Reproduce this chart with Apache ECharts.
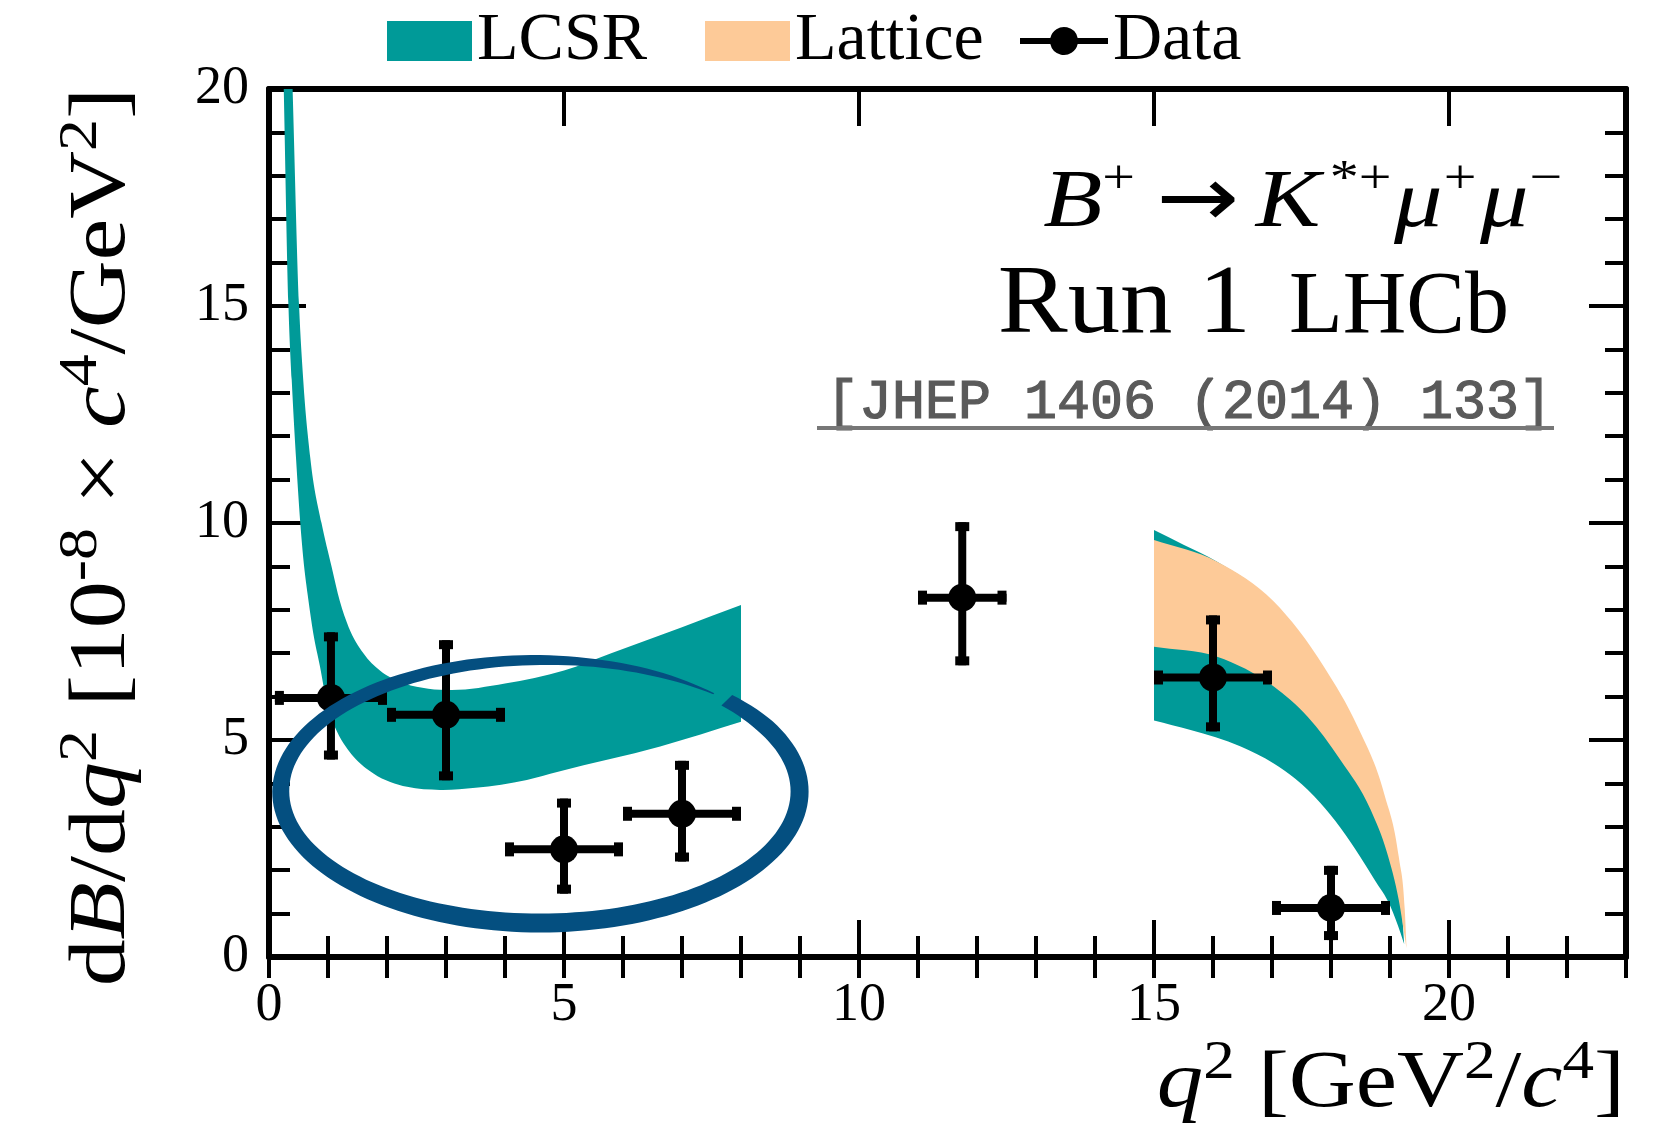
<!DOCTYPE html>
<html><head><meta charset="utf-8">
<script src="https://cdn.jsdelivr.net/npm/echarts@6/dist/echarts.min.js"></script>
<style>html,body{margin:0;padding:0;background:#fff}#c{width:1676px;height:1139px}</style>
</head><body><div id="c"></div>
<script>
// ---------------- data ----------------
const xMajorTicks = [0, 5, 10, 15, 20];
const yMajorTicks = [0, 5, 10, 15, 20];

// measured differential branching fraction (bins in q^2)
const dataX     = [1.05, 3, 5, 7, 11.75, 16, 18];
const dataXLow  = [0.1, 2, 4, 6, 11, 15, 17];
const dataXHigh = [2, 4, 6, 8, 12.5, 17, 19];
const dataY     = [5.97, 5.58, 2.48, 3.30, 8.28, 6.44, 1.13];
const dataYLow  = [4.55, 4.07, 1.46, 2.20, 6.72, 5.20, 0.39];
const dataYHigh = [7.48, 7.30, 3.65, 4.52, 10.02, 7.87, 2.10];

// LCSR band, low q^2
const lcsrLowUpperX = [0.4, 0.51, 0.58, 0.7, 0.89, 1.06, 1.2, 1.35, 1.6, 1.88, 2.3, 2.7, 3.1, 4.0, 5.0, 5.8, 7.0, 8.0];
const lcsrLowUpperY = [20, 15, 13.3, 11.5, 10.0, 9.0, 8.2, 7.6, 7.0, 6.6, 6.3, 6.18, 6.15, 6.3, 6.6, 7.0, 7.6, 8.11];
const lcsrLowLowerX = [0.25, 0.33, 0.385, 0.46, 0.53, 0.58, 0.667, 0.75, 0.865, 0.98, 1.15, 1.3, 1.43, 1.77, 2.34, 2.9, 3.5, 4.37, 4.9, 6.63, 8.0];
const lcsrLowLowerY = [20, 15, 13.3, 11.45, 10.0, 9.2, 8.23, 7.46, 6.69, 5.85, 5.2, 4.85, 4.62, 4.23, 3.92, 3.85, 3.9, 4.08, 4.27, 4.85, 5.42];

// LCSR band, high q^2
const lcsrHighUpperX = [15.0, 15.5, 16.07, 17.03, 17.88, 18.45, 18.9, 19.1, 19.2, 19.24];
const lcsrHighUpperY = [9.84, 9.5, 9.11, 8.15, 6.6, 5.15, 3.5, 2.2, 1.1, 0.3];
const lcsrHighLowerX = [15.0, 15.62, 16.47, 17.03, 17.4, 17.82, 18.16, 18.5, 18.73, 19.01, 19.18, 19.24];
const lcsrHighLowerY = [5.45, 5.23, 4.85, 4.46, 4.1, 3.55, 2.98, 2.3, 1.8, 1.16, 0.55, 0.3];

// Lattice band, high q^2
const latticeUpperX = [15.0, 16.07, 17.03, 17.88, 18.45, 18.9, 19.15, 19.25, 19.28];
const latticeUpperY = [9.61, 9.11, 8.19, 6.69, 5.31, 3.77, 2.3, 1.1, 0.2];
const latticeLowerX = [15.0, 16.07, 17.03, 17.6, 18.16, 18.67, 18.95, 19.15, 19.28];
const latticeLowerY = [7.15, 6.92, 6.23, 5.54, 4.54, 3.4, 2.4, 1.3, 0.2];

// hand-drawn highlight ellipse (annotation, in data units)
const ellipseCenter = [4.596, 3.813];
const ellipseRadii = [4.397, 3.03];

// ---------------- styles ----------------
const TEAL = '#009a98';
const ORANGE = '#fdca98';
const NAVY = '#044f80';
const SERIF = '"Liberation Serif", "DejaVu Serif", serif';
const MONO = '"Liberation Mono", "DejaVu Sans Mono", monospace';

// smooth cubic Hermite path through pixel points (x monotone along the edge)
function smoothPath(pts, move) {
  const n = pts.length;
  let d = (move ? 'M' : 'L') + pts[0][0] + ',' + pts[0][1];
  const h = [], s = [];
  for (let i = 0; i < n - 1; i++) {
    let dx = pts[i + 1][0] - pts[i][0];
    if (Math.abs(dx) < 1e-6) dx = 1e-6;
    h.push(dx); s.push((pts[i + 1][1] - pts[i][1]) / dx);
  }
  const m = [];
  for (let i = 0; i < n; i++) {
    if (i === 0) m.push(s[0]);
    else if (i === n - 1) m.push(s[n - 2]);
    else m.push((h[i - 1] * s[i] + h[i] * s[i - 1]) / (h[i - 1] + h[i]));
  }
  for (let i = 0; i < n - 1; i++) {
    const p1 = pts[i], p2 = pts[i + 1], k = h[i] / 3;
    const c1 = [p1[0] + k, p1[1] + k * m[i]];
    const c2 = [p2[0] - k, p2[1] - k * m[i + 1]];
    d += ' C' + c1[0] + ',' + c1[1] + ' ' + c2[0] + ',' + c2[1] + ' ' + p2[0] + ',' + p2[1];
  }
  return d;
}

function bandSeries(name, upX, upY, loX, loY, color, z) {
  return {
    type: 'custom', name: name, coordinateSystem: 'cartesian2d', xAxisIndex: 0, yAxisIndex: 0,
    z: z, silent: true, itemStyle: { color: color },
    data: [[upX[0], upY[0]]],
    renderItem: function (params, api) {
      const up = upX.map((x, i) => api.coord([x, upY[i]]));
      const lo = loX.map((x, i) => api.coord([x, loY[i]])).reverse();
      const d = smoothPath(up, true) + ' ' + smoothPath(lo, false) + ' Z';
      return { type: 'path', shape: { pathData: d }, style: { fill: color } };
    }
  };
}

const errData = dataX.map((x, i) => [x, dataY[i], dataXLow[i], dataXHigh[i], dataYLow[i], dataYHigh[i]]);

const errSeries = {
  type: 'custom', name: 'Data', coordinateSystem: 'cartesian2d', xAxisIndex: 0, yAxisIndex: 0,
  z: 10, silent: true, itemStyle: { color: '#000' },
  encode: { x: 0, y: 1 },
  data: errData,
  renderItem: function (params, api) {
    const x = api.value(0), y = api.value(1);
    const c = api.coord([x, y]);
    const pl = api.coord([api.value(2), y]), ph = api.coord([api.value(3), y]);
    const pb = api.coord([x, api.value(4)]), pt = api.coord([x, api.value(5)]);
    const lw = 8, capL = 14, capW = 9;
    const st = { fill: '#000' };
    return {
      type: 'group', children: [
        { type: 'rect', shape: { x: pl[0], y: c[1] - lw / 2, width: ph[0] - pl[0], height: lw }, style: st },
        { type: 'rect', shape: { x: c[0] - lw / 2, y: pt[1], width: lw, height: pb[1] - pt[1] }, style: st },
        { type: 'rect', shape: { x: pl[0], y: c[1] - capL / 2, width: capW, height: capL }, style: st },
        { type: 'rect', shape: { x: ph[0] - capW, y: c[1] - capL / 2, width: capW, height: capL }, style: st },
        { type: 'rect', shape: { x: c[0] - capL / 2, y: pt[1], width: capL, height: capW }, style: st },
        { type: 'rect', shape: { x: c[0] - capL / 2, y: pb[1] - capW, width: capL, height: capW }, style: st },
        { type: 'circle', shape: { cx: c[0], cy: c[1], r: 14 }, style: st }
      ]
    };
  }
};

// stroke width profile of the hand-drawn ellipse (screen angle in degrees -> px)
const widthProfile = [[-44, 15], [-30, 18], [0, 18], [90, 19], [180, 17], [225, 14], [270, 10], [295, 6], [312, 1.5]];
function strokeW(a) {
  for (let i = 0; i < widthProfile.length - 1; i++) {
    const [a0, w0] = widthProfile[i], [a1, w1] = widthProfile[i + 1];
    if (a >= a0 && a <= a1) return w0 + (w1 - w0) * (a - a0) / (a1 - a0);
  }
  return 10;
}
const ellipseSeries = {
  type: 'custom', name: 'highlight', coordinateSystem: 'cartesian2d', xAxisIndex: 0, yAxisIndex: 0,
  z: 20, silent: true,
  data: [ellipseCenter],
  renderItem: function (params, api) {
    const c = api.coord([api.value(0), api.value(1)]);
    const sz = api.size(ellipseRadii);
    const rx = sz[0], ry = sz[1];
    const outer = [], inner = [];
    for (let a = -44; a <= 312; a += 2) {
      const t = a * Math.PI / 180, w = strokeW(a) / 2;
      const ct = Math.cos(t), sn = Math.sin(t);
      outer.push([c[0] + (rx + w) * ct, c[1] + (ry + w) * sn]);
      inner.push([c[0] + (rx - w) * ct, c[1] + (ry - w) * sn]);
    }
    return { type: 'polygon', shape: { points: outer.concat(inner.reverse()) }, style: { fill: NAVY } };
  }
};

// ---------------- axes ----------------
const axisLine = { show: true, onZero: false, lineStyle: { color: '#000', width: 6 } };
const majorTick = { show: true, inside: true, length: 37, lineStyle: { color: '#000', width: 4 } };
const minorTickAx = { show: true, inside: true, length: 21, lineStyle: { color: '#000', width: 4 } };
const labelStyle = { fontFamily: SERIF, fontSize: 54, color: '#000' };

function xAx(pos, major, label) {
  return {
    type: 'value', position: pos, min: 0, max: 23, interval: major ? 5 : 1,
    axisLine: major ? axisLine : { show: false },
    axisTick: major ? majorTick : minorTickAx,
    splitLine: { show: false },
    axisLabel: label ? Object.assign({ margin: 22, formatter: v => (xMajorTicks.indexOf(v) >= 0 ? String(v) : '') }, labelStyle) : { show: false }
  };
}
function yAx(pos, label) {
  return {
    type: 'value', position: pos, min: 0, max: 20, interval: 5,
    axisLine: axisLine, axisTick: majorTick,
    minorTick: { show: true, splitNumber: 5, length: 21, lineStyle: { color: '#000', width: 4 } },
    splitLine: { show: false },
    axisLabel: label ? Object.assign({ margin: 20, formatter: v => (yMajorTicks.indexOf(v) >= 0 ? String(v) : '') }, labelStyle) : { show: false }
  };
}

// ---------------- rich text helpers ----------------
function richStyles(F, supRatio) {
  const L = 1.2 * F, s = supRatio * F;
  // superscript baseline sits 0.275F above main baseline
  const h = 2 * (0.6625 * F - 0.3375 * s);
  return {
    t: { fontFamily: SERIF, fontSize: F, lineHeight: L, verticalAlign: 'middle', color: '#000' },
    it: { fontFamily: SERIF, fontStyle: 'italic', fontSize: F, lineHeight: L, verticalAlign: 'middle', color: '#000' },
    sup: { fontFamily: SERIF, fontSize: s, lineHeight: h, verticalAlign: 'top', color: '#000' }
  };
}
function legendCfg(name, left, icon, w, h, color) {
  return {
    left: left, top: 7, padding: 0, itemWidth: w, itemHeight: h, selectedMode: false,
    textStyle: { fontFamily: SERIF, fontSize: 68, color: '#000' },
    data: [{ name: name, icon: icon, itemStyle: { color: color } }]
  };
}

const chart = echarts.init(document.getElementById('c'), null, { renderer: 'canvas' });

const DF = 82;
const decayRich = richStyles(DF, 0.6);
decayRich.arr = { fontFamily: '"DejaVu Sans", sans-serif', fontSize: 84, lineHeight: 1.2 * DF, verticalAlign: 'middle', color: '#000', padding: [0, 14, 0, 18] };
decayRich.supK = Object.assign({}, decayRich.sup, { padding: [0, 2, 0, 8] });
decayRich.supm = Object.assign({}, decayRich.sup, { padding: [0, 3, 0, 1] });

const XF = 80, YF = 81, STRETCH = 1.16;
const xTitleRich = richStyles(XF, 0.68);
const yTitleRich = richStyles(YF, 0.68);

chart.setOption({
  animation: false,
  backgroundColor: '#fff',
  grid: { left: 269, right: 50, top: 89, bottom: 182, containLabel: false },
  xAxis: [xAx('bottom', true, true), xAx('bottom', false, false), xAx('top', true, false), xAx('top', false, false)],
  yAxis: [yAx('left', true), yAx('right', false)],
  legend: [
    legendCfg('LCSR', 387, 'rect', 85, 40, TEAL),
    legendCfg('Lattice', 705, 'rect', 85, 40, ORANGE),
    legendCfg('Data', 1020, 'path://M0,11H30.33A14,14,0,0,1,57.67,11H88V17H57.67A14,14,0,0,1,30.33,17H0Z', 88, 28, '#000')
  ],
  series: [
    bandSeries('LCSR', lcsrLowUpperX, lcsrLowUpperY, lcsrLowLowerX, lcsrLowLowerY, TEAL, 2),
    bandSeries('LCSR', lcsrHighUpperX, lcsrHighUpperY, lcsrHighLowerX, lcsrHighLowerY, TEAL, 2),
    bandSeries('Lattice', latticeUpperX, latticeUpperY, latticeLowerX, latticeLowerY, ORANGE, 3),
    errSeries,
    ellipseSeries
  ],
  graphic: [
    { type: 'text', x: 1566, y: 232 - 0.9375 * DF, scaleX: 1.18, z: 50,
      style: { text: '{it|B}{sup|+}{arr|→}{it|K}{supK|*+}{it|μ}{supm|+}{it|μ}{supm|−}', rich: decayRich, align: 'right', verticalAlign: 'top' } },
    { type: 'text', x: 1509, y: 339 - 0.3375 * 88, z: 50,
      style: { text: 'LHCb', fontFamily: SERIF, fontSize: 88, fill: '#000', align: 'right', verticalAlign: 'middle' } },
    { type: 'text', x: 1251, y: 339 - 0.3375 * 97, scaleX: 1.08, z: 50,
      style: { text: 'Run 1', fontFamily: SERIF, fontSize: 97, fill: '#000', align: 'right', verticalAlign: 'middle' } },
    { type: 'text', x: 826, y: 418 - 0.2665 * 55, z: 50,
      style: { text: '[JHEP 1406 (2014) 133]', fontFamily: MONO, fontSize: 55, fill: '#5a5a5a', stroke: '#5a5a5a', lineWidth: 1.2, align: 'left', verticalAlign: 'middle' } },
    { type: 'line', z: 50, shape: { x1: 817, y1: 428, x2: 1554, y2: 428 }, style: { stroke: '#777', lineWidth: 4 } },
    { type: 'text', x: 1625, y: 1112 - 0.9375 * XF, scaleX: STRETCH, z: 50,
      style: { text: '{it|q}{sup|2}{t| [GeV}{sup|2}{t|/}{it|c}{sup|4}{t|]}', rich: xTitleRich, align: 'right', verticalAlign: 'top' } },
    { type: 'text', x: 130 - 0.3375 * YF, y: 537, rotation: Math.PI / 2, scaleX: STRETCH, z: 50,
      style: { text: '{t|d}{it|B}{t|/d}{it|q}{sup|2}{t| [10}{sup|-8}{t| × }{it|c}{sup|4}{t|/GeV}{sup|2}{t|]}', rich: yTitleRich, align: 'center', verticalAlign: 'middle' } }
  ]
});
</script>
</body></html>
